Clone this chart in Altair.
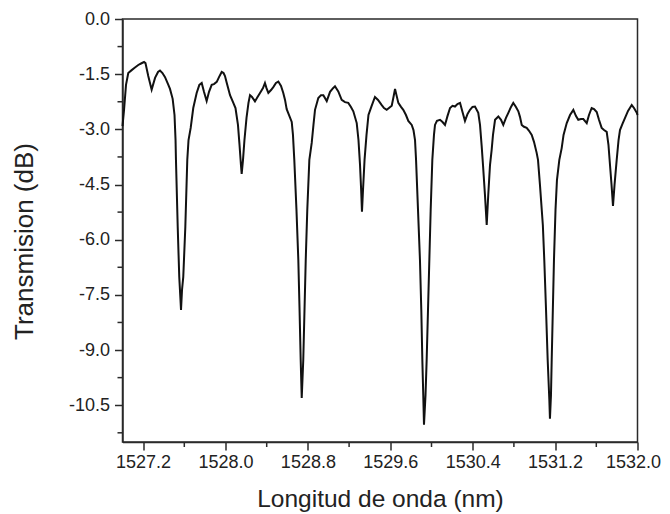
import altair as alt
import pandas as pd

# Wavelength (nm) and transmission (dB)
wavelength = [
    1527.000, 1527.015, 1527.034, 1527.056, 1527.089, 1527.121, 1527.153, 1527.180, 1527.209, 1527.223,
    1527.250, 1527.283, 1527.316, 1527.345, 1527.364, 1527.388, 1527.413, 1527.442, 1527.461, 1527.487,
    1527.505, 1527.515, 1527.519, 1527.536, 1527.551, 1527.563, 1527.568,
    1527.578, 1527.590, 1527.610, 1527.629, 1527.641, 1527.662, 1527.687, 1527.720, 1527.746, 1527.769,
    1527.791, 1527.817, 1527.840, 1527.866, 1527.888, 1527.915, 1527.937, 1527.963, 1527.981, 1527.995,
    1528.015, 1528.044, 1528.076, 1528.097, 1528.121, 1528.136, 1528.150, 1528.157,
    1528.170, 1528.184, 1528.204, 1528.223, 1528.238, 1528.257, 1528.286, 1528.311, 1528.335, 1528.364,
    1528.383, 1528.398, 1528.416, 1528.442, 1528.464, 1528.490, 1528.513, 1528.539, 1528.561, 1528.578,
    1528.594, 1528.617, 1528.643, 1528.655, 1528.668, 1528.689, 1528.707, 1528.719, 1528.730, 1528.740,
    1528.755, 1528.767, 1528.779, 1528.794, 1528.814, 1528.837, 1528.854, 1528.869, 1528.901, 1528.927,
    1528.950, 1528.983, 1529.015, 1529.044, 1529.063, 1529.095, 1529.128, 1529.160, 1529.192, 1529.218,
    1529.241, 1529.274, 1529.291, 1529.306, 1529.317, 1529.325,
    1529.335, 1529.350, 1529.369, 1529.388, 1529.419, 1529.451, 1529.481, 1529.517, 1529.539, 1529.565,
    1529.587, 1529.614, 1529.631, 1529.646, 1529.660, 1529.678, 1529.704, 1529.726, 1529.752, 1529.775,
    1529.808, 1529.825, 1529.840, 1529.850, 1529.869, 1529.888, 1529.901, 1529.911, 1529.920, 1529.927,
    1529.942, 1529.953, 1529.966, 1529.979, 1529.992, 1530.008, 1530.024, 1530.034, 1530.053, 1530.083,
    1530.107, 1530.131, 1530.155, 1530.180, 1530.204, 1530.228, 1530.252, 1530.277, 1530.301, 1530.325,
    1530.350, 1530.374, 1530.398, 1530.422, 1530.454, 1530.471, 1530.487, 1530.500, 1530.519, 1530.536,
    1530.551, 1530.568, 1530.584, 1530.597, 1530.617, 1530.649, 1530.675, 1530.697, 1530.723, 1530.746,
    1530.772, 1530.794, 1530.820, 1530.843, 1530.859, 1530.876, 1530.898, 1530.924, 1530.947, 1530.973,
    1530.995, 1531.021, 1531.034, 1531.053, 1531.081, 1531.095, 1531.112, 1531.128, 1531.144, 1531.150,
    1531.160, 1531.167, 1531.178, 1531.189, 1531.204, 1531.218, 1531.241, 1531.264, 1531.282, 1531.313,
    1531.345, 1531.377, 1531.403, 1531.425, 1531.451, 1531.474, 1531.507, 1531.529, 1531.555, 1531.578,
    1531.604, 1531.626, 1531.652, 1531.675, 1531.701, 1531.718, 1531.733, 1531.748, 1531.762,
    1531.777, 1531.798, 1531.816, 1531.830, 1531.854, 1531.879, 1531.908, 1531.944, 1531.966, 1531.993,
    1532.000,
]

transmission = [
    -2.91, -2.47, -1.79, -1.47, -1.39, -1.32, -1.25, -1.21, -1.17, -1.20,
    -1.55, -1.92, -1.60, -1.44, -1.40, -1.47, -1.58, -1.77, -1.90, -2.17,
    -2.61, -3.29, -3.83, -5.65, -7.01, -7.64, -7.91,
    -7.36, -7.01, -5.65, -3.83, -3.29, -2.96, -2.42, -2.01, -1.79, -1.74,
    -1.98, -2.23, -1.98, -1.79, -1.77, -1.71, -1.58, -1.44, -1.47, -1.55,
    -1.77, -2.07, -2.28, -2.42, -2.88, -3.42, -3.97, -4.21,
    -3.83, -3.29, -2.69, -2.28, -2.07, -2.12, -2.24, -2.12, -2.01, -1.88,
    -1.74, -1.88, -2.01, -1.93, -1.85, -1.74, -1.70, -1.82, -2.01, -2.20,
    -2.45, -2.61, -2.80, -3.15, -3.83, -5.19, -6.55, -7.91, -9.27, -10.30,
    -9.27, -7.91, -6.55, -5.19, -3.83, -3.37, -2.88, -2.47, -2.15, -2.07,
    -2.07, -2.23, -1.98, -1.88, -1.83, -1.97, -2.20, -2.26, -2.28, -2.39,
    -2.51, -2.83, -3.29, -3.97, -4.65, -5.24,
    -4.65, -3.83, -3.15, -2.61, -2.36, -2.12, -2.20, -2.34, -2.42, -2.47,
    -2.42, -2.36, -2.12, -1.90, -2.07, -2.28, -2.39, -2.47, -2.61, -2.77,
    -2.88, -3.02, -3.29, -3.83, -5.19, -6.55, -7.91, -9.27, -10.22, -11.03,
    -10.22, -9.27, -7.91, -6.55, -5.19, -3.83, -3.15, -2.88, -2.77, -2.74,
    -2.80, -2.88, -2.64, -2.42, -2.36, -2.38, -2.31, -2.28, -2.53, -2.77,
    -2.58, -2.47, -2.39, -2.38, -2.55, -2.88, -3.45, -3.97, -4.78, -5.60,
    -4.78, -3.97, -3.56, -3.15, -2.74, -2.65, -2.74, -2.88, -2.69, -2.55,
    -2.39, -2.28, -2.39, -2.51, -2.66, -2.88, -2.93, -2.96, -3.04, -3.15,
    -3.34, -3.64, -3.83, -4.51, -5.60, -6.55, -7.91, -9.27, -10.35, -10.87,
    -10.22, -9.27, -7.91, -6.55, -5.19, -4.38, -3.83, -3.51, -3.15, -2.83,
    -2.61, -2.47, -2.64, -2.74, -2.72, -2.72, -2.83, -2.61, -2.42, -2.45,
    -2.53, -2.74, -2.96, -3.02, -3.07, -3.42, -3.97, -4.51, -5.08,
    -4.51, -3.83, -3.29, -3.02, -2.85, -2.69, -2.50, -2.34, -2.42, -2.55,
    -2.61,
]

x_ticks = [1527.2, 1528.0, 1528.8, 1529.6, 1530.4, 1531.2, 1532.0]
x_minor = [1527.6, 1528.4, 1529.2, 1530.0, 1530.8, 1531.6]
y_ticks = [0.0, -1.5, -3.0, -4.5, -6.0, -7.5, -9.0, -10.5]
y_minor = [-0.75, -2.25, -3.75, -5.25, -6.75, -8.25, -9.75, -11.25]

W, H = 515, 423
FONT = "Liberation Sans"
INK = "#2a2a2a"

df = pd.DataFrame({"wl": wavelength, "t": transmission})
dfx = pd.DataFrame({"wl": x_minor})
dfy = pd.DataFrame({"t": y_minor})

xs = alt.Scale(domain=[1527.0, 1532.0], nice=False, zero=False)
ys = alt.Scale(domain=[-11.5, 0.0], nice=False, zero=False)

x_axis = alt.Axis(
    values=x_ticks, format=".1f", title="Longitud de onda (nm)",
    labelFlush=1, labelFlushOffset=23, labelOverlap=False,
    tickSize=8, labelPadding=3, titleFontSize=24.5,
    titlePadding=16, grid=False)
y_axis = alt.Axis(
    values=y_ticks, format=".1f", title="Transmision (dB)",
    labelExpr="replace(datum.label, '\u2212', '-')",
    labelOverlap=False, tickSize=8, labelPadding=5, titleFontSize=26,
    titlePadding=30.5, titleY=222, grid=False)

line = alt.Chart(df).mark_line(color="#111111", strokeWidth=2).encode(
    x=alt.X("wl:Q", scale=xs, axis=x_axis),
    y=alt.Y("t:Q", scale=ys, axis=y_axis),
    order=alt.Order("wl:Q"),
)

minor_x = alt.Chart(dfx).mark_rule(color=INK, strokeWidth=1.5).encode(
    x=alt.X("wl:Q", scale=xs, axis=x_axis),
    y=alt.value(H), y2=alt.value(H + 5),
)
minor_y = alt.Chart(dfy).mark_rule(color=INK, strokeWidth=1.5).encode(
    y=alt.Y("t:Q", scale=ys, axis=y_axis),
    x=alt.value(-5), x2=alt.value(0),
)

chart = alt.layer(line, minor_x, minor_y).properties(
    width=W, height=H,
    background="white",
    autosize=alt.AutoSizeParams(type="none"),
    padding={"left": 114.5, "top": 11, "right": 24, "bottom": 72},
).configure_view(
    stroke=INK, strokeWidth=1.5,
).configure_axis(
    labelFont=FONT, titleFont=FONT, labelFontSize=18,
    titleFontWeight="normal", labelColor="#222222", titleColor="#222222",
    domainColor=INK, tickColor=INK, domainWidth=1.5, tickWidth=1.5,
)

chart.save("out.html", embed_options={"renderer": "svg", "actions": False})
